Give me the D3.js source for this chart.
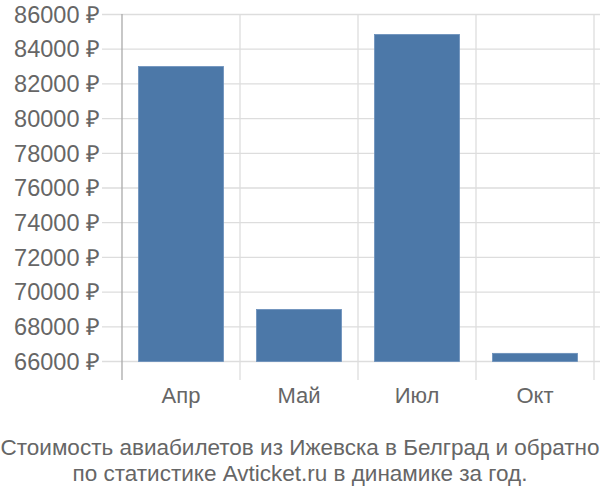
<!DOCTYPE html>
<html><head><meta charset="utf-8">
<script src="https://cdn.jsdelivr.net/npm/d3@7"></script>
<style>body{margin:0;background:#fff}svg{display:block}text{font-family:"Liberation Sans",Arial,sans-serif}</style>
</head><body><svg id="c" width="600" height="500"></svg>
<script>
const categories = ["Апр", "Май", "Июл", "Окт"];
const values = [83000, 69000, 84850, 66470];
const yTicks = [66000, 68000, 70000, 72000, 74000, 76000, 78000, 80000, 82000, 84000, 86000];
const titleLines = ["Стоимость авиабилетов из Ижевска в Белград и обратно", "по статистике Avticket.ru в динамике за год."];

const svg = d3.select("#c");
const x = d3.scaleBand().domain(categories).range([122, 594]).paddingInner(0.28).paddingOuter(0.14);
const y = d3.scaleLinear().domain([66000, 86000]).range([361.5, 14.5]);

// horizontal grid
svg.append("g").selectAll("line").data(yTicks).join("line")
  .attr("x1", 102).attr("x2", 600).attr("y1", d => y(d)).attr("y2", d => y(d))
  .attr("stroke", "#dddddd").attr("stroke-width", 1.3);
// vertical grid
const bounds = categories.map(c => x(c) - x.step() * x.paddingInner() / 2 + x.step());
svg.append("g").selectAll("line").data(bounds).join("line")
  .attr("x1", d => d).attr("x2", d => d).attr("y1", 14).attr("y2", 380)
  .attr("stroke", "#dddddd").attr("stroke-width", 1.3);
// axis line
svg.append("line").attr("x1", 122).attr("x2", 122).attr("y1", 14).attr("y2", 380)
  .attr("stroke", "#aaaaaa").attr("stroke-width", 1.3);

// bars
svg.append("g").selectAll("rect").data(values).join("rect")
  .attr("x", (d, i) => x(categories[i])).attr("width", x.bandwidth())
  .attr("y", d => y(d)).attr("height", d => y(66000) - y(d))
  .attr("fill", "#4c78a8").attr("stroke", "#6a90bb").attr("stroke-width", 0.8);

// y labels
svg.append("g").selectAll("text").data(yTicks).join("text")
  .attr("x", 100).attr("y", d => y(d)).attr("dy", "0.35em").attr("text-anchor", "end")
  .attr("font-size", 23.5).attr("fill", "#666").text(d => d + " ₽");
// x labels
svg.append("g").selectAll("text").data(categories).join("text")
  .attr("x", d => x(d) + x.bandwidth() / 2).attr("y", 403).attr("text-anchor", "middle")
  .attr("font-size", 22).attr("fill", "#666").text(d => d);
// title
svg.append("g").selectAll("text").data(titleLines).join("text")
  .attr("x", 300).attr("y", (d, i) => 455 + i * 26).attr("text-anchor", "middle")
  .attr("font-size", 22.5).attr("fill", "#666").text(d => d);
</script></body></html>
